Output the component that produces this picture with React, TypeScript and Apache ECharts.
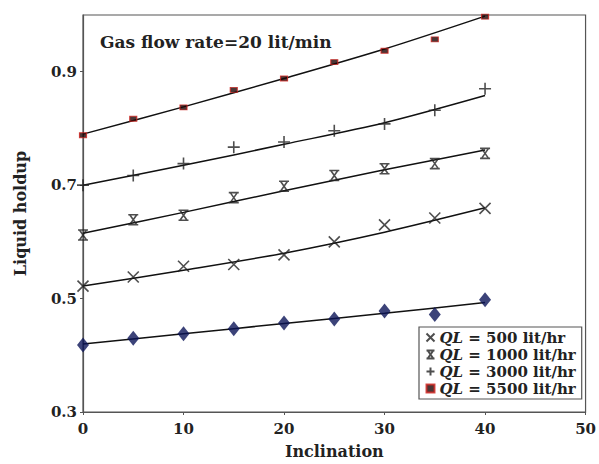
import React, { useEffect, useRef } from "react";
import * as echarts from "echarts";

const inclination = [0, 5, 10, 15, 20, 25, 30, 35, 40];
const fitX = [0, 10, 20, 30, 40];

const holdupDiamond = [0.418, 0.43, 0.438, 0.447, 0.457, 0.464, 0.478, 0.472, 0.498];
const holdup500 = [0.522, 0.538, 0.557, 0.56, 0.577, 0.6, 0.63, 0.642, 0.659];
const holdup1000 = [0.612, 0.639, 0.647, 0.678, 0.698, 0.717, 0.729, 0.738, 0.756];
const holdup3000 = [0.70, 0.717, 0.738, 0.767, 0.776, 0.796, 0.808, 0.832, 0.87];
const holdup5500 = [0.788, 0.817, 0.837, 0.868, 0.888, 0.917, 0.937, 0.957, 0.997];

const fitDiamond = [0.42, 0.438, 0.456, 0.474, 0.493];
const fit500 = [0.522, 0.55, 0.58, 0.617, 0.66];
const fit1000 = [0.615, 0.652, 0.69, 0.727, 0.762];
const fit3000 = [0.70, 0.735, 0.772, 0.81, 0.858];
const fit5500 = [0.79, 0.838, 0.888, 0.94, 0.998];

const legendNames = ["QL = 500 lit/hr", "QL = 1000 lit/hr", "QL = 3000 lit/hr", "QL = 5500 lit/hr"];
const xTicks = { min: 0, max: 50, interval: 10 };
const yTicks = { min: 0.3, max: 1.0, interval: 0.2 };

const FONT = "DejaVu Serif";
const TXT = "#222";

const crossPath = "path://M0,0L10,10M10,0L0,10";
const hourPath = "path://M0,0L10,0M0,10L10,10M1.5,0L8.5,10M8.5,0L1.5,10";
const plusPath = "path://M5,0L5,10M0,5L10,5";

function pairs(xs: number[], ys: number[]) {
  return xs.map((x, i) => [x, ys[i]]);
}

export default function App() {
  const ref = useRef<HTMLDivElement>(null);
  useEffect(() => {
    if (!ref.current) return;
    const chart = echarts.init(ref.current, null, { renderer: "svg" });
    const fitLine = (ys: number[]) => ({
      type: "line",
      data: pairs(fitX, ys),
      smooth: 0.3,
      symbol: "none",
      lineStyle: { color: "#111", width: 1.5 },
      silent: true,
      z: 2,
    });
    const strokeStyle = { color: "none", borderColor: "#222", borderWidth: 1.6 };
    chart.setOption({
      animation: false,
      backgroundColor: "#fff",
      grid: { left: 83, right: 5, top: 15, bottom: 51, show: true, borderColor: "#555", borderWidth: 1.2 },
      title: {
        text: "Gas flow rate=20 lit/min",
        left: 100,
        top: 33,
        padding: 0,
        textStyle: { fontFamily: FONT, fontWeight: "bold", fontSize: 17, color: TXT },
      },
      legend: {
        orient: "vertical",
        left: 419,
        top: 327,
        padding: [3, 6, 3, 5],
        itemGap: 2,
        itemWidth: 8,
        itemHeight: 8,
        borderColor: "#555",
        borderWidth: 1.2,
        borderRadius: 0,
        backgroundColor: "#fff",
        data: legendNames,
        formatter: (name: string) => `{i|QL}{n|${name.slice(2)}}`,
        textStyle: {
          fontFamily: FONT,
          fontSize: 15,
          color: TXT,
          rich: {
            i: { fontFamily: FONT, fontStyle: "italic", fontWeight: "bold", fontSize: 15, color: TXT },
            n: { fontFamily: FONT, fontWeight: "bold", fontSize: 15, color: TXT },
          },
        },
      },
      xAxis: {
        type: "value",
        ...xTicks,
        name: "Inclination",
        nameLocation: "middle",
        nameGap: 31,
        nameTextStyle: { fontFamily: FONT, fontWeight: "bold", fontSize: 16, color: TXT },
        axisLine: { lineStyle: { color: "#555", width: 1.2 } },
        axisTick: { length: 3, lineStyle: { color: "#555" } },
        axisLabel: { fontFamily: FONT, fontWeight: "bold", fontSize: 15, color: TXT, margin: 9 },
        splitLine: { show: false },
      },
      yAxis: {
        type: "value",
        ...yTicks,
        name: "Liquid holdup",
        nameLocation: "middle",
        nameGap: 55,
        nameTextStyle: { fontFamily: FONT, fontWeight: "bold", fontSize: 16, color: TXT },
        axisLine: { lineStyle: { color: "#555", width: 1.2 } },
        axisTick: { length: 3, lineStyle: { color: "#555" } },
        axisLabel: {
          fontFamily: FONT,
          fontWeight: "bold",
          fontSize: 15,
          color: TXT,
          margin: 6,
          showMaxLabel: false,
          formatter: (v: number) => (Math.abs(v - 1) < 1e-6 ? "" : v.toFixed(1)),
        },
        splitLine: { show: false },
      },
      series: [
        fitLine(fitDiamond),
        fitLine(fit500),
        fitLine(fit1000),
        fitLine(fit3000),
        fitLine(fit5500),
        {
          name: "Diamond",
          type: "scatter",
          data: pairs(inclination, holdupDiamond),
          symbol: "diamond",
          symbolSize: [12, 15],
          itemStyle: { color: "#0b1458" },
          z: 3,
        },
        {
          name: legendNames[0],
          type: "scatter",
          data: pairs(inclination, holdup500),
          symbol: crossPath,
          symbolSize: 11,
          itemStyle: strokeStyle,
          z: 3,
        },
        {
          name: legendNames[1],
          type: "scatter",
          data: pairs(inclination, holdup1000),
          symbol: hourPath,
          symbolSize: [10, 10],
          itemStyle: strokeStyle,
          z: 3,
        },
        {
          name: legendNames[2],
          type: "scatter",
          data: pairs(inclination, holdup3000),
          symbol: plusPath,
          symbolSize: 12,
          itemStyle: strokeStyle,
          z: 3,
        },
        {
          name: legendNames[3],
          type: "scatter",
          data: pairs(inclination, holdup5500),
          symbol: "rect",
          symbolSize: [7, 5],
          itemStyle: { color: "#1e0505", borderColor: "#d0201c", borderWidth: 1 },
          z: 3,
        },
      ],
    });
    return () => chart.dispose();
  }, []);
  return <div ref={ref} style={{ width: 599, height: 464, position: "absolute", left: 0, top: 0 }} />;
}
